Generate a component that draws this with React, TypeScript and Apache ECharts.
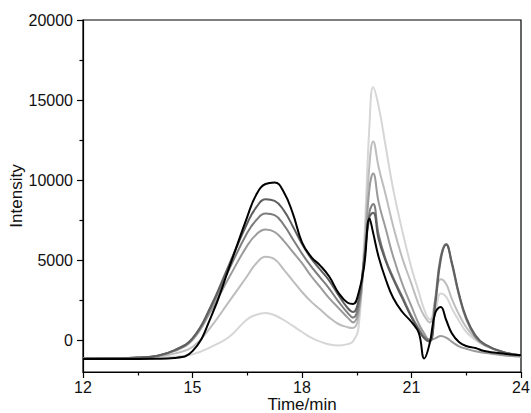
import React, { useEffect, useRef } from "react";
import * as echarts from "echarts";

const times = [12, 13, 13.5, 14, 14.5, 15, 15.5, 16, 16.5, 16.75, 17, 17.25, 17.5, 17.75, 18, 18.25, 18.5, 18.75, 19, 19.25, 19.4, 19.55, 19.7, 19.85, 19.95, 20.1, 20.3, 20.5, 20.75, 21, 21.2, 21.35, 21.5, 21.65, 21.8, 21.95, 22.1, 22.3, 22.5, 22.75, 23, 23.5, 24];

const seriesF = [-1150, -1150, -1140, -1120, -1050, -900, -440, 190, 1300, 1580, 1680, 1550, 1250, 880, 500, 150, -100, -280, -350, -260, -80, 800, 6000, 13500, 15800, 14600, 12000, 9400, 6800, 4500, 3000, 1900, 1300, 1800, 2900, 2700, 2000, 1200, 500, 0, -350, -750, -950];
const seriesE = [-1150, -1140, -1120, -1050, -850, -440, 810, 2400, 4000, 4800, 5200, 5050, 4400, 3700, 3000, 2400, 1900, 1400, 1000, 800, 750, 1500, 5500, 11000, 12400, 10800, 9000, 7100, 5100, 3500, 2200, 1500, 1100, 2500, 3800, 3500, 2600, 1600, 800, 100, -300, -750, -950];
const seriesD = [-1150, -1140, -1100, -1000, -700, 0, 1800, 3900, 5900, 6600, 6900, 6750, 6200, 5500, 4800, 4000, 3300, 2600, 2000, 1400, 1100, 1800, 5000, 9500, 10400, 8600, 6900, 5200, 3500, 2100, 1000, 400, 0, 100, 250, 150, -100, -400, -550, -700, -800, -950, -1050];
const seriesC = [-1150, -1140, -1100, -1000, -650, 100, 2000, 4400, 6700, 7500, 7900, 7800, 7200, 6300, 5400, 4600, 3900, 3200, 2400, 1700, 1400, 2200, 5000, 8000, 8500, 6600, 5000, 3900, 2700, 1500, 700, 200, 0, 2500, 5200, 6000, 4800, 2800, 1300, 200, -300, -750, -950];
const seriesB = [-1150, -1140, -1100, -1000, -650, 100, 2100, 4700, 7300, 8300, 8800, 8700, 8100, 7100, 6000, 5100, 4400, 3700, 2800, 2000, 1750, 2500, 5000, 7700, 7950, 6300, 4900, 3800, 2600, 1400, 600, 100, -100, 2200, 5000, 5950, 4900, 2900, 1400, 300, -250, -750, -950];
const seriesA = [-1180, -1180, -1180, -1170, -1120, -700, 1400, 4500, 7700, 9100, 9750, 9850, 9250, 7900, 6100, 5200, 4650, 3950, 2950, 2330, 2250, 2940, 4560, 7600, 6690, 5190, 3750, 2625, 1750, 1125, 440, -1150, -190, 1690, 2060, 1250, 440, -125, -375, -500, -690, -850, -950];

const yTicks = [0, 5000, 10000, 15000, 20000];
const yMinorTicks = [2500, 7500, 12500, 17500];

const FONT = "'Liberation Sans', Arial, sans-serif";

export default function App() {
  const ref = useRef<HTMLDivElement>(null);
  useEffect(() => {
    if (!ref.current) return;
    const chart = echarts.init(ref.current, undefined, { renderer: "svg" });
    const mk = (vals: number[], color: string, z: number) => ({
      type: "line",
      data: times.map((t, i) => [t, vals[i]]),
      smooth: 0.45,
      showSymbol: false,
      lineStyle: { color, width: 2 },
      z,
    });
    chart.setOption({
      animation: false,
      grid: {
        left: 83,
        right: 10,
        top: 20,
        bottom: 41,
        outerBoundsMode: "none",
        containLabel: false,
        show: true,
        borderColor: "#000",
        borderWidth: 1.2,
      },
      xAxis: {
        type: "value",
        min: 12,
        max: 24,
        interval: 3,
        name: "Time/min",
        nameLocation: "middle",
        nameGap: 24,
        nameMoveOverlap: false,
        nameTextStyle: { fontFamily: FONT, fontSize: 17, color: "#111", lineHeight: 17 },
        axisLine: { show: true, onZero: false, lineStyle: { color: "#000", width: 1.2 } },
        axisTick: { show: true, length: 6, lineStyle: { color: "#000", width: 1.2 } },
        minorTick: { show: true, splitNumber: 2, length: 3.5, lineStyle: { color: "#000", width: 1.2 } },
        axisLabel: { fontFamily: FONT, fontSize: 16, lineHeight: 15, color: "#111", margin: 8, formatter: (v: number) => String(v) },
        splitLine: { show: false },
      },
      yAxis: [
        {
          type: "value",
          min: -2000,
          max: 20000,
          name: "Intensity",
          nameLocation: "middle",
          nameGap: 58,
          nameMoveOverlap: false,
          nameTextStyle: { fontFamily: FONT, fontSize: 17, color: "#111" },
          axisLine: { show: true, onZero: false, lineStyle: { color: "#000", width: 1.2 } },
          axisTick: { show: true, length: 6, customValues: yTicks, lineStyle: { color: "#000", width: 1.2 } },
          axisLabel: { fontFamily: FONT, fontSize: 16, color: "#111", margin: 10, customValues: yTicks, formatter: (v: number) => String(v) },
          splitLine: { show: false },
        },
        {
          type: "value",
          min: -2000,
          max: 20000,
          position: "left",
          axisLine: { show: false },
          axisTick: { show: true, length: 3.5, customValues: yMinorTicks, lineStyle: { color: "#000", width: 1.2 } },
          axisLabel: { show: false },
          splitLine: { show: false },
        },
      ],
      series: [
        mk(seriesF, "#d6d6d6", 1),
        mk(seriesE, "#bdbdbd", 2),
        mk(seriesD, "#9b9b9b", 3),
        mk(seriesC, "#7d7d7d", 4),
        mk(seriesB, "#5f5f5f", 5),
        mk(seriesA, "#000000", 6),
      ],
    });
    return () => chart.dispose();
  }, []);
  return <div ref={ref} style={{ width: 531, height: 413, position: "absolute", left: 0, top: 0 }} />;
}
